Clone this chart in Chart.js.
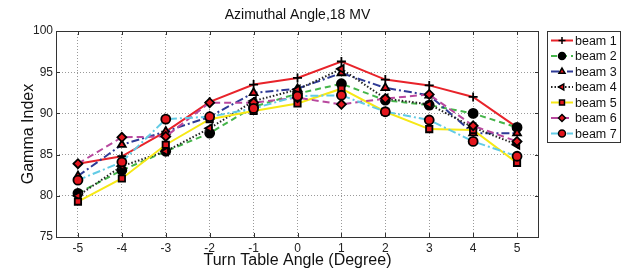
<!DOCTYPE html>
<html>
<head>
<meta charset="utf-8">
<script src="https://cdn.jsdelivr.net/npm/chart.js@4.4.0/dist/chart.umd.min.js"></script>
<style>
html, body { margin: 0; padding: 0; background: #fff; }
#wrap { width: 623px; height: 269px; }
</style>
</head>
<body>
<div id="wrap"><canvas id="grafico" width="623" height="269"></canvas></div>
<script>
// datos
var angulos = [-5, -4, -3, -2, -1, 0, 1, 2, 3, 4, 5];
var beam1 = [83.9, 84.8, 87.8, 91.4, 93.5, 94.3, 96.3, 94.1, 93.4, 92.0, 88.3];
var beam2 = [80.3, 83.1, 85.4, 87.6, 90.8, 92.4, 93.6, 91.6, 91.0, 90.0, 88.3];
var beam3 = [82.4, 86.2, 87.8, 89.6, 92.5, 93.0, 94.9, 93.1, 92.2, 87.6, 87.6];
var beam4 = [80.0, 83.6, 85.4, 88.2, 91.5, 92.9, 95.4, 91.8, 91.1, 88.3, 86.2];
var beam5 = [79.3, 82.1, 86.2, 89.3, 90.3, 91.2, 93.0, 90.2, 88.1, 88.0, 84.0];
var beam6 = [83.9, 87.1, 87.2, 91.3, 91.3, 91.9, 91.1, 91.8, 92.3, 88.5, 86.6];
var beam7 = [81.9, 84.1, 89.3, 89.6, 90.6, 92.1, 92.2, 90.2, 89.2, 86.6, 84.8];
var yTicks = [75, 80, 85, 90, 95, 100];
var nombres = ['beam 1', 'beam 2', 'beam 3', 'beam 4', 'beam 5', 'beam 6', 'beam 7'];

var fuente = '"Liberation Sans", Arial, sans-serif';

function serie(i, valores, color, dash, estilo, relleno, rot) {
    return {
        label: nombres[i],
        data: valores.map(function (v, k) { return { x: angulos[k], y: v }; }),
        borderColor: color,
        backgroundColor: color,
        borderWidth: 2,
        borderDash: dash,
        pointStyle: estilo,
        pointRadius: 4.5,
        pointBackgroundColor: relleno,
        pointBorderColor: '#000',
        pointBorderWidth: 1.8,
        pointRotation: rot || 0,
        tension: 0,
        fill: false,
        order: 7 - i
    };
}

var series = [
    serie(0, beam1, '#e8232a', [], 'cross', '#000', 0),
    serie(1, beam2, '#45b54a', [6, 4], 'circle', '#000', 0),
    serie(2, beam3, '#2e3a96', [8, 3, 2, 3], 'triangle', '#e3161d', 0),
    serie(3, beam4, '#222', [1.5, 2], 'triangle', '#e3161d', -90),
    serie(4, beam5, '#f6e816', [], 'rect', '#e3161d', 0),
    serie(5, beam6, '#b8489e', [7, 4], 'rectRot', '#e3161d', 0),
    serie(6, beam7, '#62cbe5', [8, 3, 2, 3], 'circle', '#e3161d', 0)
];

// marco tipo matlab con marcas hacia dentro
var marco = {
    id: 'marco',
    afterDraw: function (chart) {
        var ctx = chart.ctx, a = chart.chartArea;
        var sx = chart.scales.x, sy = chart.scales.y;
        ctx.save();
        ctx.strokeStyle = '#333';
        ctx.lineWidth = 1;
        ctx.setLineDash([]);
        ctx.strokeRect(a.left + 0.5, a.top + 0.5, a.right - a.left - 1, a.bottom - a.top);
        ctx.beginPath();
        angulos.forEach(function (v) {
            var x = Math.round(sx.getPixelForValue(v)) + 0.5;
            ctx.moveTo(x, a.bottom); ctx.lineTo(x, a.bottom - 4);
            ctx.moveTo(x, a.top); ctx.lineTo(x, a.top + 4);
        });
        yTicks.forEach(function (v) {
            var y = Math.round(sy.getPixelForValue(v)) + 0.5;
            ctx.moveTo(a.left, y); ctx.lineTo(a.left + 4, y);
            ctx.moveTo(a.right, y); ctx.lineTo(a.right - 4, y);
        });
        ctx.stroke();

        // leyenda
        var lx = 547, ly = 31, lw = 73, lh = 111;
        ctx.fillStyle = '#fff';
        ctx.fillRect(lx, ly, lw, lh);
        ctx.strokeStyle = '#333';
        ctx.strokeRect(lx + 0.5, ly + 0.5, lw, lh);
        ctx.font = '12.5px ' + fuente;
        ctx.textBaseline = 'middle';
        chart.data.datasets.forEach(function (d, i) {
            var y = ly + 9.5 + i * 15.5;
            ctx.strokeStyle = d.borderColor;
            ctx.lineWidth = 2;
            ctx.setLineDash(d.borderDash);
            ctx.beginPath();
            ctx.moveTo(551, y); ctx.lineTo(573, y);
            ctx.stroke();
            ctx.setLineDash([]);
            ctx.fillStyle = d.pointBackgroundColor;
            ctx.strokeStyle = '#000';
            ctx.lineWidth = 1.5;
            Chart.helpers.drawPoint(ctx, { pointStyle: d.pointStyle, rotation: d.pointRotation, radius: 3.5, borderWidth: 1.5 }, 562, y);
            ctx.fillStyle = '#111';
            ctx.fillText(d.label, 575, y + 1);
        });
        ctx.restore();
    }
};

var ctx1 = document.getElementById('grafico').getContext('2d');
window.myLine = new Chart(ctx1, {
    type: 'line',
    data: { datasets: series },
    options: {
        responsive: false,
        animation: false,
        layout: { padding: { left: 21, right: 84, top: 0, bottom: 0 } },
        plugins: {
            legend: { display: false },
            tooltip: { enabled: false },
            title: {
                display: true,
                text: 'Azimuthal Angle,18 MV',
                fullSize: false,
                color: '#111',
                font: { family: fuente, size: 14, weight: 'normal' },
                padding: { top: 7, bottom: 7.2 }
            }
        },
        scales: {
            x: {
                type: 'linear',
                min: -5.5,
                max: 5.5,
                afterBuildTicks: function (s) { s.ticks = angulos.map(function (v) { return { value: v }; }); },
                afterFit: function (s) { s.height = 32; },
                grid: { color: '#9a9a9a', drawTicks: false },
                border: { display: false, dash: [1, 2] },
                ticks: { padding: 4, color: '#222', font: { family: fuente, size: 12 }, maxRotation: 0 },
                title: { display: true, text: 'Turn Table Angle (Degree)', color: '#111', font: { family: fuente, size: 16, lineHeight: 1 }, padding: 0 }
            },
            y: {
                min: 75,
                max: 100,
                afterBuildTicks: function (s) { s.ticks = yTicks.map(function (v) { return { value: v }; }); },
                afterFit: function (s) { s.width = 35; },
                grid: { color: '#9a9a9a', drawTicks: false },
                border: { display: false, dash: [1, 2] },
                ticks: { padding: 3, color: '#222', font: { family: fuente, size: 12 } },
                title: { display: true, text: 'Gamma Index', color: '#111', font: { family: fuente, size: 16, lineHeight: 1 }, padding: 0 }
            }
        }
    },
    plugins: [marco]
});
</script>
</body>
</html>
